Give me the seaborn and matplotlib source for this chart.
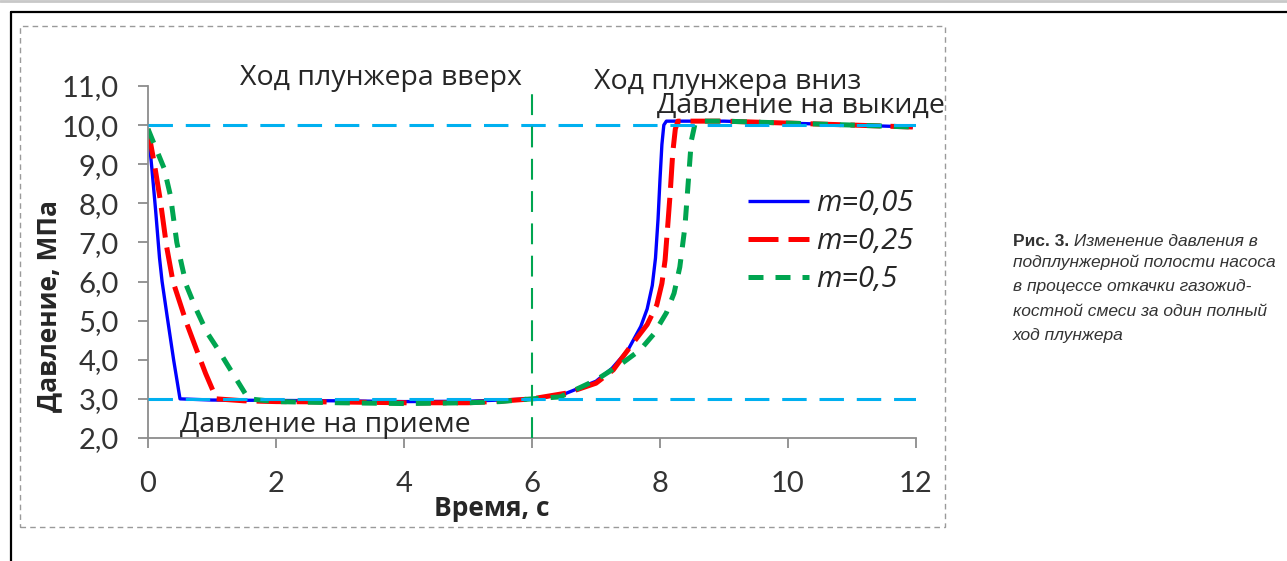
import matplotlib
matplotlib.use("Agg")
import matplotlib.pyplot as plt
from matplotlib.lines import Line2D
from matplotlib.patches import Rectangle
from matplotlib.ticker import FuncFormatter
import numpy as np
import pandas as pd
import seaborn as sns

# ---------------- data ----------------
t_m005 = [0, 0.06, 0.12, 0.18, 0.22, 0.3, 0.4, 0.5, 1.0, 2.0, 3.0, 4.0, 5.0, 5.5, 6.0, 6.5,
          7.0, 7.25, 7.5, 7.7, 7.8, 7.88, 7.93, 7.97, 8.0, 8.03, 8.06, 8.1, 8.3, 9.0, 10.0, 11.0, 11.95]
p_m005 = [9.9, 8.9, 7.8, 6.6, 6.0, 5.1, 4.0, 3.0, 2.97, 2.96, 2.95, 2.93, 2.94, 2.97, 3.0, 3.12,
          3.45, 3.78, 4.25, 4.85, 5.3, 5.9, 6.6, 7.6, 8.6, 9.5, 10.0, 10.1, 10.1, 10.1, 10.05, 10.0, 9.95]

t_m025 = [0, 0.1, 0.19, 0.29, 0.39, 0.6, 0.76, 0.9, 1.07, 1.5, 2.0, 3.0, 4.0, 5.0, 5.5, 6.0, 6.55,
          7.0, 7.27, 7.58, 7.8, 7.95, 8.03, 8.08, 8.12, 8.16, 8.2, 8.24, 8.28, 8.4, 9.0, 10.0, 11.0, 11.95]
p_m025 = [9.9, 9.0, 8.1, 6.9, 6.0, 4.95, 4.25, 3.65, 3.0, 2.95, 2.93, 2.92, 2.9, 2.9, 2.94, 3.0, 3.15,
          3.4, 3.74, 4.43, 4.9, 5.4, 5.95, 6.55, 7.4, 8.27, 9.3, 9.9, 10.1, 10.1, 10.1, 10.05, 10.0, 9.95]

t_m05 = [0, 0.1, 0.25, 0.35, 0.45, 0.53, 0.6, 0.75, 0.92, 1.1, 1.23, 1.4, 1.57, 2.0, 3.0, 4.0, 5.0,
         5.5, 6.0, 6.44, 7.0, 7.4, 7.69, 7.9, 8.1, 8.22, 8.31, 8.39, 8.44, 8.49, 8.55, 8.65, 9.0,
         10.0, 11.0, 11.95]
p_m05 = [9.9, 9.5, 8.9, 8.2, 7.0, 6.4, 5.9, 5.3, 4.7, 4.25, 3.9, 3.45, 3.0, 2.93, 2.9, 2.88, 2.9,
         2.93, 3.0, 3.05, 3.48, 3.9, 4.25, 4.65, 5.2, 5.7, 6.37, 7.4, 8.5, 9.6, 10.05, 10.1, 10.1,
         10.05, 10.0, 9.95]

series_labels = ["m=0,05", "m=0,25", "m=0,5"]
ref_pressures = [10.0, 3.0]        # давление на выкиде / на приеме
stroke_switch_time = 6.0           # смена хода плунжера

x_ticks = [0, 2, 4, 6, 8, 10, 12]
y_ticks = [2, 3, 4, 5, 6, 7, 8, 9, 10, 11]

x_label = "Время, с"
y_label = "Давление, МПа"
caption_head = "Рис. 3."
caption_line1 = " Изменение давления в"
caption_rest = ("подплунжерной полости насоса\n"
                "в процессе откачки газожид-\n"
                "костной смеси за один полный\n"
                "ход плунжера")

# ---------------- style ----------------
sns.set_theme(style="white")
plt.rcParams["font.family"] = ["Lato", "Open Sans", "DejaVu Sans"]
TXT = "#262626"
OPEN = ["Open Sans", "DejaVu Sans"]

fig = plt.figure(figsize=(12.87, 5.61), dpi=100)
ax = fig.add_axes([0.115, 0.2193, 0.5967, 0.6275])

df = pd.concat([
    pd.DataFrame({"t": t_m005, "p": p_m005, "series": series_labels[0]}),
    pd.DataFrame({"t": t_m025, "p": p_m025, "series": series_labels[1]}),
    pd.DataFrame({"t": t_m05, "p": p_m05, "series": series_labels[2]}),
])

styles = {
    series_labels[0]: dict(color="#0000ff", lw=2.4, dashes=None),
    series_labels[1]: dict(color="#ff0000", lw=3.6, dashes=(6, 2)),
    series_labels[2]: dict(color="#00a550", lw=3.6, dashes=(3, 2.4)),
}

handles = []
for name in series_labels:
    st = styles[name]
    sub = df[df["series"] == name]
    sns.lineplot(data=sub, x="t", y="p", ax=ax, color=st["color"], linewidth=st["lw"],
                 sort=False, estimator=None, zorder=2, label=name, legend=False)
    ln = ax.get_lines()[-1]
    if st["dashes"] is not None:
        ln.set_dashes(st["dashes"])
    ln.set_solid_capstyle("butt")
    ln.set_dash_capstyle("butt")
    ln.set_solid_joinstyle("round")
    handles.append(ln)

for yv in ref_pressures:
    ax.axhline(yv, color="#00b0f0", lw=2.2, dashes=(8, 4.2), zorder=3)
ax.axvline(stroke_switch_time, color="#00a550", lw=1.5, dashes=(10, 5.5), zorder=3)

ax.set_xlim(0, 12)
ax.set_ylim(2, 11)
ax.set_xticks(x_ticks)
ax.set_yticks(y_ticks)
ax.yaxis.set_major_formatter(FuncFormatter(lambda v, p: f"{v:.1f}".replace(".", ",")))
for s in ["top", "right"]:
    ax.spines[s].set_visible(False)
for s in ["left", "bottom"]:
    ax.spines[s].set_color("#8c8c8c")
    ax.spines[s].set_linewidth(1.3)
ax.tick_params(axis="both", which="major", bottom=True, left=True, direction="out",
               length=7, width=1.3, color="#8c8c8c", labelsize=21, labelcolor="#333333")
ax.tick_params(axis="x", pad=17)
ax.tick_params(axis="y", pad=14)

ax.set_xlabel(x_label, fontsize=19, fontweight="bold", color=TXT, family=OPEN)
ax.xaxis.set_label_coords(0.447, -0.163)
ax.set_ylabel(y_label, fontsize=19, fontweight="bold", color=TXT, family=OPEN)
ax.yaxis.set_label_coords(-0.112, 0.375)

ann = dict(fontsize=20.5, color=TXT, ha="center", va="baseline", family=OPEN)
ax.text(3.64, 11.03, "Ход плунжера вверх", **ann)
ax.text(9.05, 10.92, "Ход плунжера вниз", **ann)
ax.text(10.2, 10.32, "Давление на выкиде", **ann)
ax.text(2.77, 2.14, "Давление на приеме", **ann)

leg = ax.legend(handles=handles, labels=series_labels, loc="center left",
                bbox_to_anchor=(0.781, 0.558), frameon=False, borderpad=0, borderaxespad=0,
                handlelength=2.1, handletextpad=0.25, labelspacing=0.3,
                prop={"style": "italic", "size": 21, "family": OPEN})
for t in leg.get_texts():
    t.set_color(TXT)

# ---------------- page decorations ----------------
W, H = 1287.0, 561.0
def fx(px): return px / W
def fy(py): return 1 - py / H

fig.add_artist(Line2D([0, 1], [fy(1), fy(1)], color="#c8c8c8", lw=2, transform=fig.transFigure))
fig.add_artist(Line2D([fx(11), fx(11)], [fy(12), 0], color="black", lw=1.6, transform=fig.transFigure))
fig.add_artist(Line2D([fx(11), 1], [fy(12), fy(12)], color="black", lw=1.6, transform=fig.transFigure))
fig.add_artist(Rectangle((fx(20), fy(527)), fx(945) - fx(20), fy(26) - fy(527), fill=False,
                         edgecolor="#9a9a9a", lw=1.0, linestyle=(0, (4, 3)), transform=fig.transFigure))

cap_family = ["Liberation Sans Narrow", "Liberation Sans", "DejaVu Sans"]
head = fig.text(fx(1013), fy(246), caption_head, fontsize=12.5, fontweight="bold", color="#333333",
                family=cap_family, va="baseline", ha="left")
hl = plt.annotate(caption_line1, xy=(1, 0), xycoords=head, xytext=(0, 0), textcoords="offset points",
                  fontsize=12.5, style="italic", color="#333333", family=cap_family,
                  va="bottom", ha="left", annotation_clip=False)
fig.text(fx(1013), fy(254), caption_rest, fontsize=12.5, style="italic", color="#333333",
         family=cap_family, va="top", ha="left", linespacing=1.8)

fig.savefig("out.png", dpi=100)
